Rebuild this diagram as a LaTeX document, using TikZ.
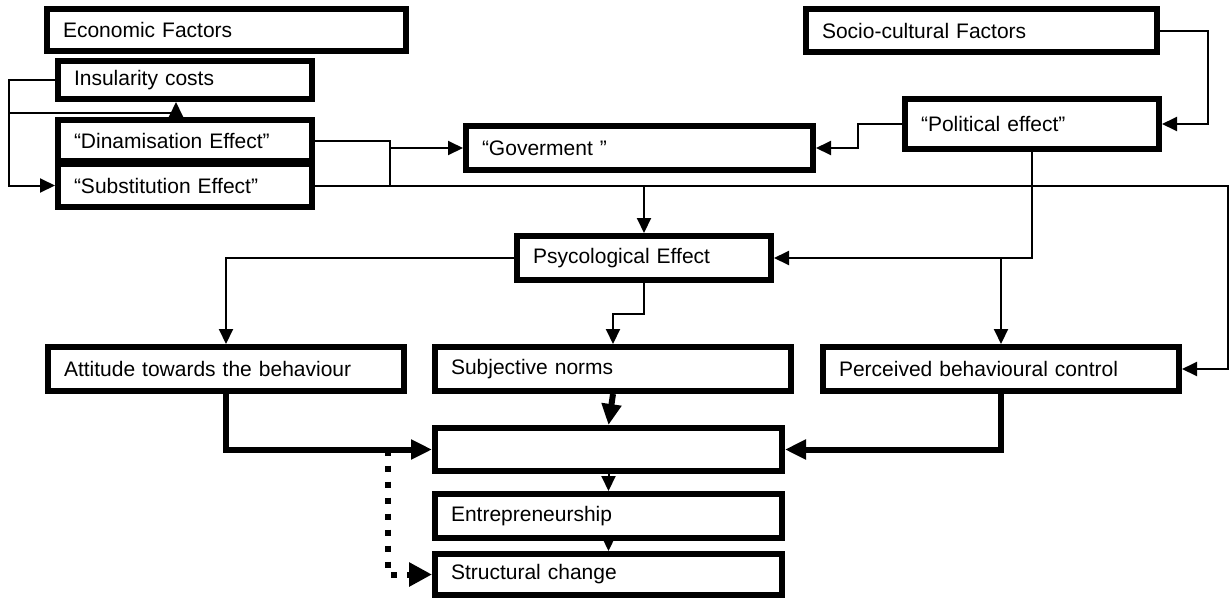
\documentclass[tikz,border=0pt]{standalone}
\usepackage{fontspec}
\setmainfont{Liberation Sans}
\usetikzlibrary{arrows.meta}
\begin{document}
\begin{tikzpicture}[x=1pt,y=-1pt,
  box/.style={draw, line width=6pt, rectangle, inner xsep=16pt, inner ysep=0pt,
    align=left, font=\fontsize{21}{24}\selectfont},
  conn/.style={line width=2pt},
  arr/.style={conn, -{Triangle[length=15pt,width=14pt]}},
  tarr/.style={line width=6pt, -{Triangle[length=21pt,width=19pt]}},
  dotarr/.style={line width=6pt, dash pattern=on 6pt off 10pt, -{Triangle[length=23pt,width=23pt]}}]
\useasboundingbox (0,0) rectangle (1231,598);

% boxes
\node[box, minimum width=359pt, minimum height=42pt, text width=327pt] (econ) at (226.5,30) {Economic Factors};
\node[box, minimum width=254pt, minimum height=38pt, text width=222pt] (insul) at (185,80) {Insularity costs};
\node[box, minimum width=254pt, minimum height=41pt, text width=222pt] (dinam) at (185,140.5) {“Dinamisation Effect”};
\node[box, minimum width=254pt, minimum height=43pt, text width=222pt] (subst) at (185,185.5) {“Substitution Effect”};
\node[box, minimum width=347pt, minimum height=44pt, text width=315pt] (gov) at (639.5,148) {“Goverment ”};
\node[box, minimum width=254pt, minimum height=50pt, text width=222pt] (pol) at (1032,124) {“Political effect”};
\node[box, minimum width=351pt, minimum height=43pt, text width=319pt] (socio) at (981.5,30.5) {Socio-cultural Factors};
\node[box, minimum width=254pt, minimum height=44pt, text width=222pt] (psyc) at (644,258) {Psycological Effect};
\node[box, minimum width=356pt, minimum height=44pt, text width=324pt] (att) at (226,369) {Attitude towards the behaviour};
\node[box, minimum width=356pt, minimum height=44pt, text width=324pt] (subj) at (613,369) {Subjective norms};
\node[box, minimum width=356pt, minimum height=44pt, text width=324pt] (perc) at (1001,369) {Perceived behavioural control};
\node[box, minimum width=347pt, minimum height=43pt, text width=315pt] (central) at (608.5,449.5) {};
\node[box, minimum width=347pt, minimum height=44pt, text width=315pt] (entre) at (608.5,516) {Entrepreneurship};
\node[box, minimum width=347pt, minimum height=41pt, text width=315pt] (struct) at (608.5,574.5) {Structural change};

% junction coordinates
\coordinate (jA) at (9,113);
\coordinate (jB) at (390,140.5);

% thin connectors
\draw[arr] (insul.west) -- ++(-46,0) |- (subst.west);
\draw[arr] (jA) -| ([xshift=-9pt]insul.south);
\draw[arr] (dinam.east) -- (jB) |- (gov.west);
\draw[conn] (jB) -- (jB |- subst.east);
\draw[arr] (subst.east) -- ++(913,0) |- (perc.east);
\draw[arr] (psyc.north |- subst.east) -- (psyc.north);
\draw[arr] (pol.west) -- ++(-44,0) |- (gov.east);
\draw[arr] (socio.east) -- ++(48,0) |- (pol.east);
\draw[arr] (pol.south) |- (psyc.east);
\draw[arr] (perc.north |- psyc.east) -- (perc.north);
\draw[arr] (psyc.west) -| (att.north);
\draw[arr] (psyc.south) -- ++(0,31) -| (subj.north);

% thick connectors
\draw[tarr] (subj.south) -- (central.north);
\draw[tarr] (att.south) |- (central.west);
\draw[tarr] (perc.south) |- (central.east);
\draw[arr] (central.south) -- (entre.north);
\draw[arr] (entre.south) -- (struct.north);
\draw[dotarr] ([xshift=-44pt]central.west) |- (struct.west);
\end{tikzpicture}
\end{document}
